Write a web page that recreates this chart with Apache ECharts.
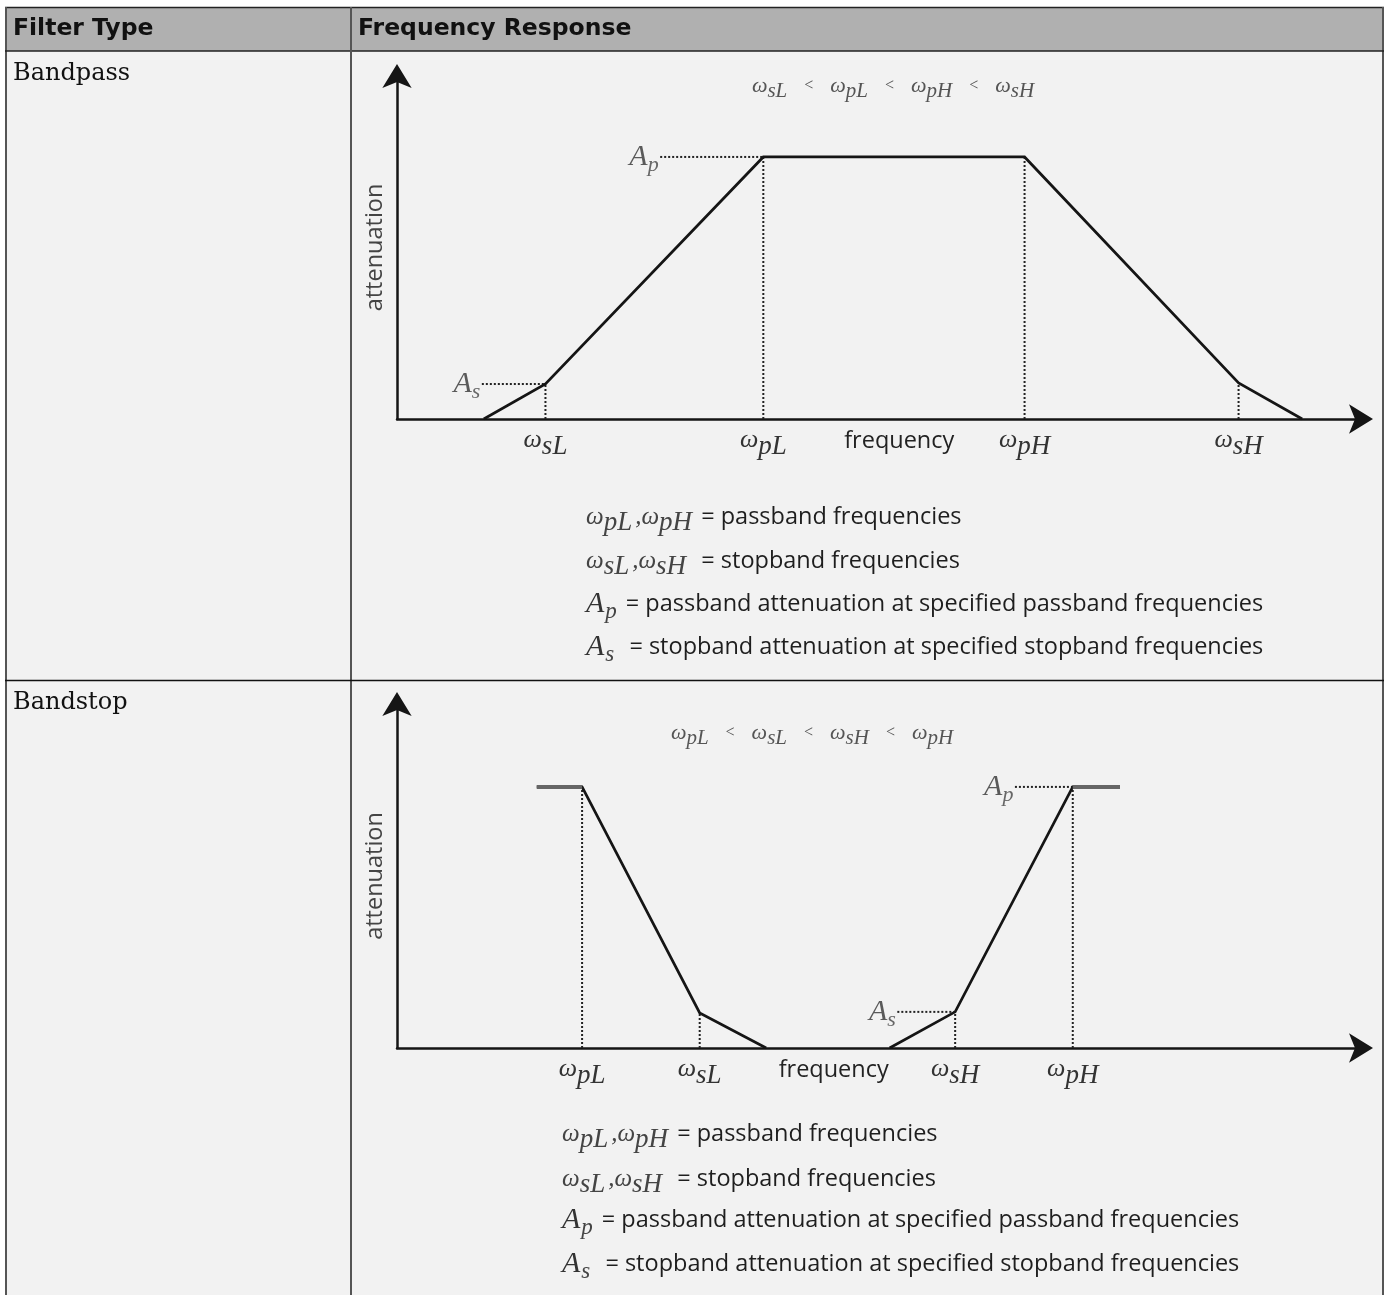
<!DOCTYPE html>
<html>
<head>
<meta charset="utf-8">
<script src="https://cdn.jsdelivr.net/npm/echarts@6/dist/echarts.min.js"></script>
<style>html,body{margin:0;padding:0;background:#fff}#c{width:1384px;height:1295px}</style>
</head>
<body>
<div id="c"></div>
<script>
// ---------- table text ----------
const headerTexts = ['Filter Type', 'Frequency Response'];
const rowTitles = ['Bandpass', 'Bandstop'];

// ---------- Bandpass (frequency 0–100, attenuation 0–100, arbitrary units) ----------
const bpCurveX = [9.0, 15.4, 38.0, 65.1, 87.3, 93.9];
const bpCurveY = [0, 10.2, 76.4, 76.4, 10.5, 0];
const bpTickX = [15.4, 38.0, 52.1, 65.1, 87.3];
const bpTickLabels = ['ω|sL', 'ω|pL', 'frequency', 'ω|pH', 'ω|sH'];
const bpGuideX = [15.4, 38.0, 65.1, 87.3];
const bpGuideTop = [10.2, 76.4, 76.4, 10.5];
const bpLevelNames = ['p', 's'];
const bpLevelY = [76.4, 10.2];
const bpLevelFrom = [27.3, 8.8];
const bpLevelTo = [38.0, 15.4];
const bpOrder = ['sL', 'pL', 'pH', 'sH'];

// ---------- Bandstop ----------
const bsLeftX = [14.5, 19.2, 31.4, 38.3];
const bsLeftY = [75.9, 75.9, 10.2, 0];
const bsRightX = [51.1, 57.9, 70.1, 75.0];
const bsRightY = [0, 10.5, 75.9, 75.9];
const bsTickX = [19.2, 31.4, 45.3, 57.9, 70.1];
const bsTickLabels = ['ω|pL', 'ω|sL', 'frequency', 'ω|sH', 'ω|pH'];
const bsGuideX = [19.2, 31.4, 57.9, 70.1];
const bsGuideTop = [75.9, 10.2, 10.5, 75.9];
const bsLevelNames = ['p', 's'];
const bsLevelY = [75.9, 10.5];
const bsLevelFrom = [64.1, 51.9];
const bsLevelTo = [70.1, 57.9];
const bsOrder = ['pL', 'sL', 'sH', 'pH'];

// ---------- legend definitions ----------
const legendDefs = [
  {kind: 'w', subs: ['pL', 'pH'], text: ' = passband frequencies'},
  {kind: 'w', subs: ['sL', 'sH'], text: '  = stopband frequencies'},
  {kind: 'A', subs: ['p'], text: '= passband attenuation at specified passband frequencies'},
  {kind: 'A', subs: ['s'], text: ' = stopband attenuation at specified stopband frequencies'}
];

const SANS = 'Open Sans';
const SERIF = 'Liberation Serif';
const INK = '#151515';

const zip = (xs, ys) => xs.map((x, i) => [x, ys[i]]);

const axisRich = {
  w: {fontFamily: SERIF, fontStyle: 'italic', fontSize: 26, color: '#333'},
  s: {fontFamily: SERIF, fontStyle: 'italic', fontSize: 27, color: '#333', padding: [12, 0, 0, 0]},
  f: {fontFamily: SANS, fontSize: 23.5, color: '#222', padding: [8, 0, 0, 0]}
};

function tickFmt(ticks, labels) {
  return function (v) {
    let idx = 0, best = Infinity;
    ticks.forEach((t, k) => { const d = Math.abs(t - v); if (d < best) { best = d; idx = k; } });
    const lab = labels[idx];
    if (lab.indexOf('|') < 0) return '{f|' + lab + '}';
    const parts = lab.split('|');
    return '{w|' + parts[0] + '}{s|' + parts[1] + '}';
  };
}

const axisLineCommon = {show: true, onZero: false, symbol: ['none', 'arrow'], symbolSize: [22, 24],
  symbolOffset: [0, 12], lineStyle: {color: INK, width: 2.5}};

function xAxisFor(gi, ticks, labels) {
  return {
    type: 'value', gridIndex: gi, min: 0, max: 100,
    axisLine: axisLineCommon,
    axisTick: {show: false}, splitLine: {show: false},
    axisLabel: {show: true, customValues: ticks, margin: 2, formatter: tickFmt(ticks, labels), rich: axisRich}
  };
}
function yAxisFor(gi) {
  return {
    type: 'value', gridIndex: gi, min: 0, max: 100,
    name: 'attenuation', nameLocation: 'middle', nameGap: 10, nameRotate: 90,
    nameTextStyle: {fontFamily: SANS, fontSize: 23.5, color: '#444'},
    axisLine: axisLineCommon,
    axisTick: {show: false}, splitLine: {show: false}, axisLabel: {show: false}
  };
}

const lineBase = {type: 'line', symbol: 'none', silent: true, animation: false};

function curve(gi, data, color, width, z) {
  return Object.assign({}, lineBase, {xAxisIndex: gi, yAxisIndex: gi, data: data, z: z || 4,
    lineStyle: {color: color, width: width, cap: 'butt', join: 'miter'}});
}
function dotted(gi, data) {
  return Object.assign({}, lineBase, {xAxisIndex: gi, yAxisIndex: gi, data: data, z: 3,
    lineStyle: {color: '#222', width: 2, type: [2, 2]}});
}
function levelLabels(gi, names, xs, ys) {
  return {
    type: 'scatter', xAxisIndex: gi, yAxisIndex: gi, silent: true, animation: false,
    symbolSize: 1, itemStyle: {color: 'rgba(0,0,0,0)'},
    data: xs.map((x, i) => ({value: [x, ys[i]], name: names[i]})),
    label: {show: true, position: 'left', distance: 1,
      formatter: p => '{A|A}{s|' + p.name + '}',
      rich: {
        A: {fontFamily: SERIF, fontStyle: 'italic', fontSize: 30, color: '#333'},
        s: {fontFamily: SERIF, fontStyle: 'italic', fontSize: 22, color: '#444', padding: [16, 0, 0, 0]}
      }}
  };
}

const series = [];
// Bandpass
series.push(curve(0, zip(bpCurveX, bpCurveY), INK, 2.7));
bpGuideX.forEach((x, i) => series.push(dotted(0, [[x, 0], [x, bpGuideTop[i]]])));
bpLevelY.forEach((y, i) => series.push(dotted(0, [[bpLevelFrom[i], y], [bpLevelTo[i], y]])));
series.push(levelLabels(0, bpLevelNames, bpLevelFrom, bpLevelY));
// Bandstop
series.push(curve(1, zip(bsLeftX, bsLeftY), INK, 2.7));
series.push(curve(1, zip(bsRightX, bsRightY), INK, 2.7));
series.push(curve(1, zip(bsLeftX.slice(0, 2), bsLeftY.slice(0, 2)), '#666', 4, 5));
series.push(curve(1, zip(bsRightX.slice(2), bsRightY.slice(2)), '#666', 4, 5));
bsGuideX.forEach((x, i) => series.push(dotted(1, [[x, 0], [x, bsGuideTop[i]]])));
bsLevelY.forEach((y, i) => series.push(dotted(1, [[bsLevelFrom[i], y], [bsLevelTo[i], y]])));
series.push(levelLabels(1, bsLevelNames, bsLevelFrom, bsLevelY));

// ---------- graphic: table + formulas + legends ----------
const gRich = {
  w: {fontFamily: SERIF, fontStyle: 'italic', fontSize: 22, fill: '#555'},
  s: {fontFamily: SERIF, fontStyle: 'italic', fontSize: 21, fill: '#555', padding: [10, 0, 0, 0]},
  o: {fontFamily: SERIF, fontSize: 16, fill: '#555', padding: [0, 9, 0, 9]},
  lw: {fontFamily: SERIF, fontStyle: 'italic', fontSize: 25, fill: '#444'},
  ls: {fontFamily: SERIF, fontStyle: 'italic', fontSize: 27, fill: '#444', padding: [12, 3, 0, 0]},
  A: {fontFamily: SERIF, fontStyle: 'italic', fontSize: 30, fill: '#333'},
  As: {fontFamily: SERIF, fontStyle: 'italic', fontSize: 23, fill: '#444', padding: [16, 9, 0, 1]},
  t: {fontFamily: SANS, fontSize: 23.5, fill: '#1e1e1e'}
};

function formulaText(order) {
  return order.map(s => '{w|ω}{s|' + s + '}').join('{o|  <  }');
}
function legendText(def) {
  if (def.kind === 'A') return '{A|A}{As|' + def.subs[0] + '}{t|' + def.text + '}';
  return def.subs.map(s => '{lw|ω}{ls|' + s + '}').join('{lw|,}') + '{t|' + def.text + '}';
}

const graphic = [];
// backgrounds
graphic.push({type: 'rect', z: -10, shape: {x: 5, y: 7, width: 1379, height: 44}, style: {fill: '#b0b0b0'}});
graphic.push({type: 'rect', z: -10, shape: {x: 5, y: 51, width: 1379, height: 1244}, style: {fill: '#f2f2f2'}});
// borders
const L = (x1, y1, x2, y2, c, w) => ({type: 'line', z: 50, shape: {x1, y1, x2, y2}, style: {stroke: c, lineWidth: w}});
graphic.push(L(5, 7.5, 1384, 7.5, '#222', 1.5));
graphic.push(L(6, 7, 6, 1295, '#555', 2));
graphic.push(L(1383, 7, 1383, 1295, '#555', 2));
graphic.push(L(5, 51, 1384, 51, '#222', 1.5));
graphic.push(L(351, 7, 351, 1295, '#555', 2));
graphic.push(L(5, 680.5, 1384, 680.5, '#111', 1.5));
// header texts
[13, 358].forEach((x, i) => graphic.push({type: 'text', z: 60, x: x, y: 29,
  style: {text: headerTexts[i], fontFamily: 'DejaVu Sans', fontWeight: 'bold', fontSize: 23.5, fill: '#111', verticalAlign: 'middle'}}));
[74, 703].forEach((y, i) => graphic.push({type: 'text', z: 60, x: 13, y: y,
  style: {text: rowTitles[i], fontFamily: 'DejaVu Serif', fontSize: 24, fill: '#111', verticalAlign: 'middle'}}));
// formulas
graphic.push({type: 'text', z: 60, x: 893, y: 86, style: {text: formulaText(bpOrder), rich: gRich, align: 'center', verticalAlign: 'middle'}});
graphic.push({type: 'text', z: 60, x: 812, y: 733, style: {text: formulaText(bsOrder), rich: gRich, align: 'center', verticalAlign: 'middle'}});
// legends
const legendY = [[517, 561, 604, 647], [1134, 1179, 1220, 1264]];
const legendX = [586, 562];
legendY.forEach((ys, b) => ys.forEach((y, i) => graphic.push({type: 'text', z: 60, x: legendX[b], y: y,
  style: {text: legendText(legendDefs[i]), rich: gRich, verticalAlign: 'middle'}})));

const chart = echarts.init(document.getElementById('c'));
chart.setOption({
  backgroundColor: '#ffffff',
  animation: false,
  grid: [
    {left: 397, top: 76, width: 964, height: 343},
    {left: 397, top: 704, width: 964, height: 344}
  ],
  xAxis: [xAxisFor(0, bpTickX, bpTickLabels), xAxisFor(1, bsTickX, bsTickLabels)],
  yAxis: [yAxisFor(0), yAxisFor(1)],
  series: series,
  graphic: graphic
});
</script>
</body>
</html>
